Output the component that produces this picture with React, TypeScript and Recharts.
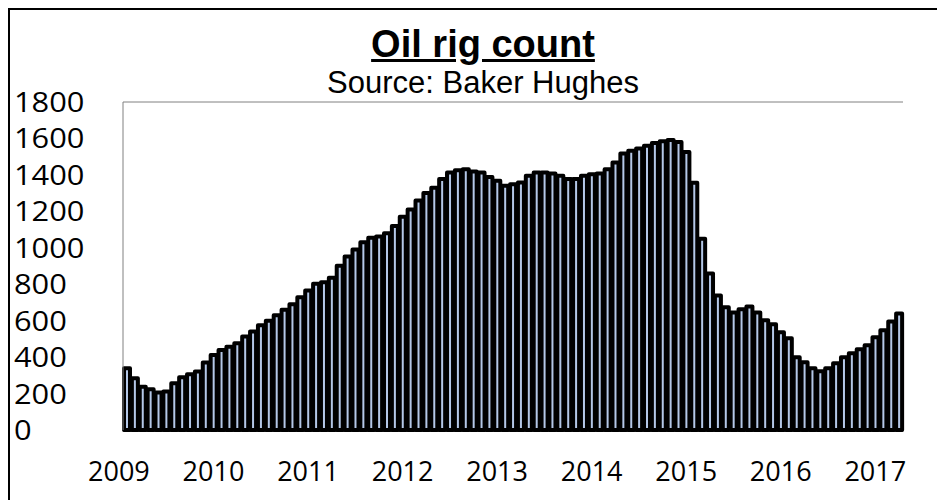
import React from 'react';
import { BarChart, Bar, XAxis, YAxis, ReferenceLine } from 'recharts';

// monthly oil rig count, Jan 2009 .. Mar 2017
const years = ['2009', '2010', '2011', '2012', '2013', '2014', '2015', '2016', '2017'];
const rigs2009 = [339, 284, 238, 224, 206, 211, 257, 290, 306, 321, 370, 412];
const rigs2010 = [439, 457, 476, 513, 540, 575, 600, 630, 660, 690, 728, 766];
const rigs2011 = [803, 811, 836, 902, 952, 990, 1030, 1055, 1062, 1080, 1120, 1170];
const rigs2012 = [1210, 1260, 1300, 1330, 1377, 1413, 1426, 1431, 1419, 1413, 1389, 1368];
const rigs2013 = [1340, 1349, 1358, 1395, 1413, 1413, 1408, 1395, 1377, 1377, 1395, 1404];
const rigs2014 = [1408, 1431, 1468, 1517, 1532, 1545, 1560, 1575, 1585, 1592, 1580, 1525];
const rigs2015 = [1357, 1050, 859, 738, 673, 645, 662, 678, 645, 602, 580, 536];
const rigs2016 = [503, 399, 372, 339, 323, 339, 366, 399, 421, 443, 465, 509];
const rigs2017 = [547, 596, 640];
const yTicks = [0, 200, 400, 600, 800, 1000, 1200, 1400, 1600, 1800];

const byYear = [rigs2009, rigs2010, rigs2011, rigs2012, rigs2013, rigs2014, rigs2015, rigs2016, rigs2017];

const data = byYear.flatMap((vals, yi) =>
  vals.map((v, m) => ({ month: `${years[yi]}-${String(m + 1).padStart(2, '0')}`, rigs: v }))
);

const labelFont = "'Open Sans', sans-serif";

const YearTick = (props: any) => {
  const { x, y, payload } = props;
  const [yr, mo] = String(payload.value).split('-');
  if (mo !== '01') return <g />;
  return (
    <text x={x - 8} y={y + 51} textAnchor="middle" fontSize={27} fontFamily={labelFont} fill="#000">
      {yr}
    </text>
  );
};

// left-aligned value labels, slightly widened like the original
const ValueTick = (props: any) => {
  const { x, y, payload } = props;
  return (
    <text
      transform={`translate(${x - 109}, ${y + 10}) scale(1.1, 1)`}
      textAnchor="start"
      fontSize={28}
      fontFamily={labelFont}
      fill="#000"
    >
      {payload.value}
    </text>
  );
};

export default function App() {
  return (
    // placeholder keeps the page exactly viewport-sized; the framed chart is fixed so it
    // can run off the right / bottom edge like the original crop without scrollbars
    <div style={{ width: 921, height: 484 }}>
      <div
        style={{
          position: 'fixed', left: 8, top: 8, width: 960, height: 520, overflow: 'hidden',
          border: '2px solid #000', background: '#fff',
        }}
      >
        <div
          style={{
            position: 'absolute', top: 15, left: 0, width: 946, textAlign: 'center',
            fontFamily: "'Liberation Sans', Arial, sans-serif", fontWeight: 'bold', fontSize: 38,
            lineHeight: '38px', textDecoration: 'underline',
          }}
        >
          Oil rig count
        </div>
        <div
          style={{
            position: 'absolute', top: 57, left: 0, width: 946, textAlign: 'center',
            fontFamily: "'Liberation Sans', Arial, sans-serif", fontSize: 31, lineHeight: '31px',
          }}
        >
          Source: Baker Hughes
        </div>
        <BarChart
          width={946}
          height={490}
          data={data}
          margin={{ top: 92, right: 53, bottom: 0, left: 0 }}
          barCategoryGap={1}
        >
          <XAxis
            dataKey="month"
            interval={0}
            tick={<YearTick />}
            tickLine={false}
            tickSize={0}
            tickMargin={0}
            height={70}
            axisLine={{ stroke: '#000', strokeWidth: 3 }}
          />
          <YAxis
            yAxisId="left"
            domain={[0, 1800]}
            ticks={yTicks}
            interval={0}
            width={113}
            tickLine={false}
            tickSize={0}
            tickMargin={0}
            axisLine={{ stroke: '#808080', strokeWidth: 1 }}
            tick={<ValueTick />}
          />
          <YAxis
            yAxisId="right"
            orientation="right"
            domain={[0, 1800]}
            width={0}
            tick={false}
            tickLine={false}
            axisLine={{ stroke: '#808080', strokeWidth: 1 }}
          />
          <ReferenceLine yAxisId="left" y={1800} stroke="#808080" strokeWidth={1} />
          <Bar
            yAxisId="left"
            dataKey="rigs"
            fill="#b4c7e7"
            stroke="#000"
            strokeWidth={4}
            strokeLinejoin="round"
            isAnimationActive={false}
          />
        </BarChart>
      </div>
    </div>
  );
}
